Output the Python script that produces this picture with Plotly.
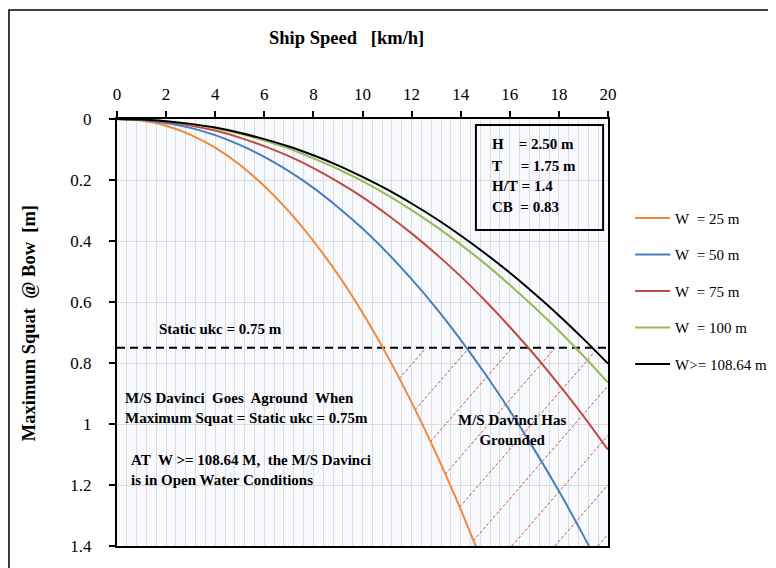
import numpy as np
import plotly.graph_objects as go

# ---------------- data ----------------
speed = [0, 1, 2, 3, 4, 5, 6, 7, 8, 9, 10, 11, 12, 13, 14, 15, 16, 17, 18, 19, 20]
squat_w25 = [0, 0.005, 0.022, 0.052, 0.094, 0.150, 0.220, 0.303, 0.400, 0.510, 0.635,
             0.775, 0.929, 1.097, 1.280, 1.477, 1.690, 1.916, 2.157, 2.414, 2.686]
squat_w50 = [0, 0.003, 0.013, 0.029, 0.053, 0.085, 0.124, 0.171, 0.226, 0.289, 0.359,
             0.438, 0.525, 0.620, 0.724, 0.836, 0.956, 1.084, 1.220, 1.366, 1.520]
squat_w75 = [0, 0.002, 0.009, 0.021, 0.038, 0.061, 0.089, 0.122, 0.161, 0.206, 0.256,
             0.313, 0.375, 0.443, 0.516, 0.596, 0.682, 0.773, 0.871, 0.974, 1.084]
squat_w100 = [0, 0.002, 0.007, 0.017, 0.030, 0.048, 0.071, 0.097, 0.129, 0.164, 0.204,
              0.249, 0.299, 0.353, 0.412, 0.475, 0.544, 0.617, 0.694, 0.777, 0.864]
squat_w108 = [0, 0.002, 0.007, 0.016, 0.028, 0.045, 0.066, 0.090, 0.119, 0.152, 0.190,
              0.231, 0.277, 0.327, 0.382, 0.441, 0.504, 0.572, 0.644, 0.721, 0.802]
series_names = ["W  = 25 m", "W  = 50 m", "W  = 75 m", "W  = 100 m", "W>= 108.64 m"]
static_ukc = 0.75
x_ticks = [0, 2, 4, 6, 8, 10, 12, 14, 16, 18, 20]
y_ticks = [0, 0.2, 0.4, 0.6, 0.8, 1.0, 1.2, 1.4]
y_ticktext = ["0", "0.2", "0.4", "0.6", "0.8", "1", "1.2", "1.4"]
box_lines = ["H    = 2.50 m", "T     = 1.75 m", "H/T = 1.4", "CB  = 0.83"]

series = [squat_w25, squat_w50, squat_w75, squat_w100, squat_w108]
colors = ["#EE8A3A", "#4A7EBB", "#BE4B48", "#98B954", "#000000"]
FONT = "Liberation Serif"
NB = "\u00a0"

fig = go.Figure()

# ---------------- hatching of the grounded zone ----------------
ymax = 1.4
xmax = 20.0
slope = 0.0926      # m per km/h (visual hatch angle)
spacing = 1.752     # km/h between hatch lines
c0 = 12.59
sp = np.array(speed, float)
w25 = np.array(squat_w25, float)


def orange(v):
    return np.interp(v, sp, w25)


k = 0
while True:
    c = c0 + spacing * k
    k += 1
    if c > 40:
        break
    if c <= xmax:
        xr, yr = c, static_ukc
    else:
        xr, yr = xmax, static_ukc + slope * (c - xmax)
        if yr >= ymax:
            break
    vb = c - (ymax - static_ukc) / slope
    if orange(vb) >= ymax:
        xl, yl = vb, ymax
    else:
        lo, hi = 0.0, c
        for _ in range(60):
            mid = 0.5 * (lo + hi)
            f = orange(mid) - (static_ukc + slope * (c - mid))
            if f > 0:
                hi = mid
            else:
                lo = mid
        xl = 0.5 * (lo + hi)
        yl = static_ukc + slope * (c - xl)
    fig.add_trace(go.Scatter(x=[xl, xr], y=[yl, yr], mode="lines", showlegend=False,
                             hoverinfo="skip",
                             line=dict(color="rgba(190,75,72,0.95)", width=1, dash="3px,2px")))

# static ukc line
fig.add_trace(go.Scatter(x=[0, 20], y=[static_ukc, static_ukc], mode="lines", showlegend=False,
                         line=dict(color="black", width=2, dash="8px,5px")))

# curves
for i, (name, ys, col) in enumerate(zip(series_names, series, colors)):
    fig.add_trace(go.Scatter(x=speed, y=ys, mode="lines", name=name.replace("  ", NB + NB),
                             legendgroup=str(i),
                             line=dict(color=col, width=2, shape="spline", smoothing=0.6)))


# ---------------- annotations ----------------
def ann(text, x, y, xanchor="center", size=15, align="center", xref="x", yref="y", textangle=0):
    fig.add_annotation(text=text, x=x, y=y, xref=xref, yref=yref, showarrow=False,
                       xanchor=xanchor, yanchor="middle", align=align, textangle=textangle,
                       font=dict(family=FONT, size=size, color="black"))


ann("<b>Static ukc = 0.75 m</b>", 4.2, 0.689)
ann("<b>M/S Davinci" + NB + " Goes" + NB + " Aground" + NB + " When<br>Maximum Squat = Static ukc = 0.75m</b>",
    0.24, 0.948, xanchor="left", align="left")
ann("<b>AT" + NB + " W >= 108.64 M," + NB + " the M/S Davinci<br>is in Open Water Conditions</b>",
    0.49, 1.151, xanchor="left", align="left")
ann("<b>M/S Davinci Has<br>Grounded</b>", 16.13, 1.02)
for line_text, yy in zip(box_lines, [0.082, 0.154, 0.220, 0.289]):
    ann("<b>" + line_text.replace(" ", NB) + "</b>", 15.19, yy, xanchor="left", align="left", size=15)

fig.add_shape(type="rect", xref="x", yref="y", x0=14.62, x1=19.80, y0=0.020, y1=0.364,
              line=dict(color="black", width=2), fillcolor="rgba(0,0,0,0)")

# axis titles
ann("<b>Ship Speed" + NB * 3 + "[km/h]</b>", 0.468, 1.19, xref="paper", yref="paper", size=18.5)
ann("<b>Maximum Squat" + NB * 2 + "@ Bow" + NB * 2 + "[m]</b>", -0.18, 0.521, xref="paper", yref="paper",
    size=18.5, textangle=-90)

# outer border
fig.add_shape(type="rect", xref="paper", yref="paper", x0=-0.22, x1=1.332, y0=-0.1, y1=1.255,
              line=dict(color="black", width=1.5), fillcolor="rgba(0,0,0,0)", layer="below")

fig.update_layout(
    width=768, height=560,
    margin=dict(l=109, r=168, t=111, b=22, autoexpand=False),
    paper_bgcolor="white",
    plot_bgcolor="#F7F9FD",
    font=dict(family=FONT, size=17, color="black"),
    showlegend=True,
    legend=dict(x=1.045, y=0.806, xanchor="left", yanchor="top",
                font=dict(family=FONT, size=15, color="black"),
                traceorder="grouped", tracegroupgap=14, itemwidth=35,
                bgcolor="rgba(0,0,0,0)"),
    xaxis=dict(side="top", range=[0, 20], tickvals=x_ticks, ticktext=[str(t) for t in x_ticks],
               showline=True, linecolor="black", linewidth=2, mirror=True,
               ticks="outside", ticklen=6, tickwidth=2, tickcolor="black", ticklabelstandoff=4,
               showgrid=True, gridcolor="#DCDCDC", gridwidth=1, zeroline=False,
               minor=dict(dtick=0.4, showgrid=True, gridcolor="#DCDCDC", gridwidth=1),
               tickfont=dict(family=FONT, size=17)),
    yaxis=dict(range=[1.4, 0], tickvals=y_ticks, ticktext=y_ticktext,
               showline=True, linecolor="black", linewidth=2, mirror=True,
               ticks="outside", ticklen=6, tickwidth=2, tickcolor="black", ticklabelstandoff=14,
               showgrid=True, gridcolor="#DCDCDC", gridwidth=1, zeroline=False,
               tickfont=dict(family=FONT, size=17)),
)

fig.write_html("out.html")
